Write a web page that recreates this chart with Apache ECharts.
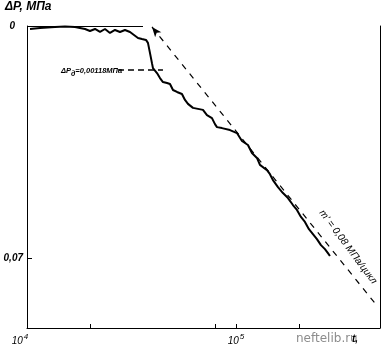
<!DOCTYPE html>
<html>
<head>
<meta charset="utf-8">
<script src="https://cdn.jsdelivr.net/npm/echarts@6/dist/echarts.min.js"></script>
<style>
html,body{margin:0;padding:0;background:#fff;}
#c{width:383px;height:348px;}
</style>
</head>
<body>
<div id="c"></div>
<script>
// cycles t
var cycles = [10336,11539,13614,15195,16967,18950,20019,21155,22354,23619,24955,26373,27861,29441,31110,32509,33974,35491,37097,37917,38338,38764,39630,40070,41879,43286,44739,46771,48337,49966,52217,55150,57016,58924,62276,65799,69520,72650,76776,79350,81123,85700,93601,101110,106840,114110,119270,126030,130250,140720,145450,150310,158860,167850,177360,187380,195830,204640,213840,223500,233550,244090,255100,266560,275510,281700];
// pressure drop, MPa
var dP = [0.0009,0.0006,0.0003,0.00015,0.0003,0.0009,0.0015,0.0009,0.0018,0.0009,0.0021,0.0012,0.0018,0.0012,0.0018,0.0027,0.0036,0.0039,0.0042,0.0051,0.0066,0.0081,0.0112,0.0127,0.0142,0.0157,0.0169,0.0172,0.0175,0.0193,0.0199,0.0205,0.0223,0.0235,0.0247,0.0250,0.0253,0.0269,0.0278,0.0296,0.0305,0.0308,0.0314,0.0323,0.0347,0.0359,0.0383,0.0398,0.0419,0.0435,0.0447,0.0465,0.0486,0.0504,0.0519,0.0540,0.0555,0.0576,0.0591,0.0613,0.0628,0.0643,0.0661,0.0673,0.0685,0.0694];
// slope line (start, end)
var slopeT = [39630, 462400];
var slopeP = [0.0003, 0.0836];
// ΔPд leader line
var leaderT = [27252, 44739];
var leaderP = 0.0133;
// zero reference line
var zeroT = [10000, 35900];
var xTicks = [20000, 80000, 100000, 200000];
var xLabels = [10000, 100000];
var yLabels = [0, 0.07];

var data = cycles.map(function(t, i){ return [t, dP[i]]; });
var chart = echarts.init(document.getElementById('c'), null, {renderer:'canvas'});
var F = 'Liberation Sans';
chart.setOption({
  animation:false,
  grid:{left:27, right:3, top:26, bottom:20},
  xAxis:{
    type:'log', logBase:10, min:10000, max:489000, position:'bottom',
    axisLine:{onZero:false, lineStyle:{color:'#000', width:1}},
    axisTick:{show:true, inside:true, length:4, customValues:xTicks, lineStyle:{color:'#000'}},
    axisLabel:{customValues:xLabels, margin:5, color:'#000',
      formatter:function(v){ return v < 50000 ? '{b|10}{s|4}{p|}' : '{b|10}{s|5}'; },
      rich:{b:{fontFamily:F, fontStyle:'italic', fontSize:10, color:'#000'},
            s:{fontFamily:F, fontStyle:'italic', fontSize:8, color:'#000', padding:[0,0,8,1]},
            p:{width:14}}},
    splitLine:{show:false}, minorTick:{show:false}
  },
  yAxis:[{
    type:'value', inverse:true, min:0, max:0.0911,
    axisLine:{show:true, onZero:false, lineStyle:{color:'#000', width:1}},
    axisTick:{show:true, inside:true, length:5, customValues:[0.07], lineStyle:{color:'#000'}},
    axisLabel:{customValues:yLabels, margin:4, color:'#000', fontFamily:F, fontStyle:'italic', fontSize:10, fontWeight:'bold',
      formatter:function(v){ return v === 0 ? '{z|0}' : String(v).replace('.', ','); },
      rich:{z:{fontFamily:F, fontStyle:'italic', fontSize:10, fontWeight:'bold', color:'#000', padding:[0,8,0,0]}}},
    splitLine:{show:false}
  },{
    type:'value', inverse:true, min:0, max:0.0911, position:'right',
    axisLine:{show:true, onZero:false, lineStyle:{color:'#000', width:1}},
    axisTick:{show:false}, axisLabel:{show:false}, splitLine:{show:false}
  }],
  series:[{
    type:'line', data:data, symbol:'none', smooth:false,
    lineStyle:{color:'#000', width:2},
    markLine:{
      silent:true, animation:false, label:{show:false},
      data:[
        [{coord:[slopeT[0], slopeP[0]], symbol:'arrow', symbolSize:[6,10], lineStyle:{color:'#000', width:1.2, type:[6,6]}},
         {coord:[slopeT[1], slopeP[1]], symbol:'none'}],
        [{coord:[leaderT[0], leaderP], symbol:'none', lineStyle:{color:'#000', width:1.5, type:[6,4]}},
         {coord:[leaderT[1], leaderP], symbol:'none'}],
        [{coord:[zeroT[0], 0], symbol:'none', lineStyle:{color:'#000', width:1, type:'solid'}},
         {coord:[zeroT[1], 0], symbol:'none'}]
      ]
    }
  }],
  graphic:[
    {type:'text', left:5, top:1, style:{text:'ΔP, МПа', fontFamily:F, fontStyle:'italic', fontWeight:'bold', fontSize:12, fill:'#000'}},
    {type:'text', x:61, y:71, style:{text:'{a|ΔP}{d|д}{a|=0,00118МПа}', textVerticalAlign:'middle',
      rich:{a:{fontFamily:F, fontStyle:'italic', fontWeight:'bold', fontSize:7.5, fill:'#000'},
            d:{fontFamily:F, fontStyle:'italic', fontWeight:'bold', fontSize:7, fill:'#000', padding:[7,0,0,0]}}}},
    {type:'text', x:348, y:247, rotation:-0.93, style:{text:"m' = 0,08 МПа/цикл", fontFamily:F, fontStyle:'italic', fontSize:10, fill:'#000', textAlign:'center', textVerticalAlign:'middle'}},
    {type:'text', x:296, y:333, style:{text:'neftelib.ru', fontFamily:'DejaVu Sans', fontSize:12, fill:'#8c8c8c'}},
    {type:'text', x:352, y:334, style:{text:'t,', fontFamily:F, fontStyle:'italic', fontWeight:'bold', fontSize:10, fill:'#000'}}
  ]
});
</script>
</body>
</html>
